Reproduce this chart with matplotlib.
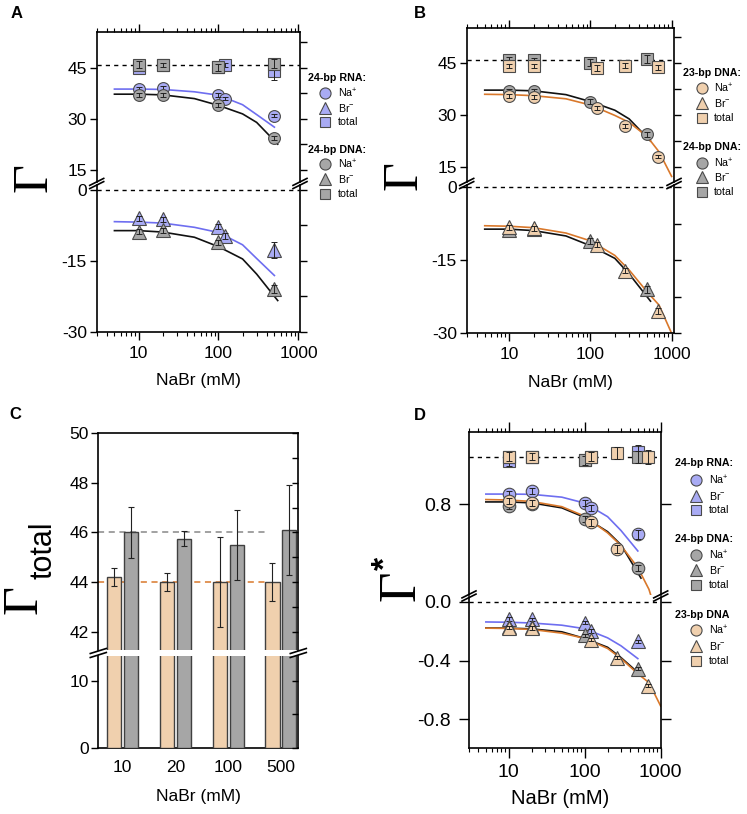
import numpy as np
import matplotlib
matplotlib.use('Agg')
import matplotlib.pyplot as plt
from matplotlib import ticker
from matplotlib.lines import Line2D

plt.rcParams['font.family'] = ['Liberation Sans', 'DejaVu Sans']
plt.rcParams['mathtext.fontset'] = 'custom'
plt.rcParams['mathtext.rm'] = 'Liberation Sans'
plt.rcParams['mathtext.it'] = 'Liberation Sans:italic'
plt.rcParams['mathtext.bf'] = 'Liberation Sans:bold'
plt.rcParams['axes.linewidth'] = 1.2
plt.rcParams['axes.unicode_minus'] = False

# ---------------- data ----------------
# 24-bp RNA
rna_x = [10, 20, 100, 120, 500]
rna_na = [38.8, 39.2, 37.0, 36.0, 31.0]
rna_br = [-6.0, -6.2, -7.8, -9.7, -12.7]
rna_tot = [45.0, 46.0, 45.2, 46.0, 44.2]
rna_na_err = [0.6, 0.6, 0.6, 0.5, 0.4]
rna_br_err = [0.5, 0.5, 0.5, 0.6, 1.6]
rna_tot_err = [1.0, 0.8, 0.7, 0.6, 2.6]
# 24-bp DNA
d24_x = [10, 20, 100, 500]
d24_na = [37.0, 37.0, 34.0, 24.5]
d24_br = [-8.8, -8.5, -11.1, -21.0]
d24_tot = [46.0, 46.0, 45.2, 46.3]
d24_na_err = [0.6, 0.6, 0.6, 0.6]
d24_br_err = [0.5, 0.5, 0.6, 0.8]
d24_tot_err = [1.0, 0.6, 1.0, 1.2]
# 23-bp DNA
d23_x = [10, 20, 120, 270, 680]
d23_na = [35.6, 35.2, 32.2, 26.9, 18.1]
d23_br = [-8.2, -8.4, -11.8, -17.1, -25.5]
d23_tot = [44.2, 44.2, 43.7, 44.4, 43.9]
d23_na_err = [0.6, 0.6, 0.5, 0.5, 0.5]
d23_br_err = [0.5, 0.5, 0.5, 0.5, 0.6]
d23_tot_err = [0.6, 0.6, 0.8, 0.6, 0.7]

# fitted curves
fit_x24 = [5, 10, 20, 50, 100, 200, 300, 500]
fit_x24d = [5, 10, 20, 50, 100, 200, 300, 550]
fit_x23 = [5, 10, 20, 50, 100, 200, 300, 500, 700, 1000]
rna_fit_na = [38.8, 38.8, 38.7, 38.0, 37.0, 34.2, 31.3, 27.6]
rna_fit_br = [-6.7, -6.8, -7.0, -7.9, -9.0, -11.6, -14.5, -18.1]
d24_fit_na = [37.3, 37.3, 37.1, 36.0, 34.0, 31.5, 29.0, 22.6]
d24_fit_br = [-8.6, -8.6, -8.9, -10.0, -12.0, -14.6, -17.8, -23.4]
d23_fit_na = [36.1, 36.0, 35.7, 34.8, 33.0, 30.0, 28.0, 23.9, 19.5, 12.4]
d23_fit_br = [-7.9, -8.0, -8.3, -9.4, -11.0, -14.0, -17.0, -21.5, -24.2, -30.0]

# panel C
c_cats = ['10', '20', '100', '500']
c_d23 = [44.2, 44.0, 44.0, 44.0]
c_d23_err = [0.37, 0.35, 1.8, 0.78]
c_d24 = [46.0, 45.75, 45.5, 46.1]
c_d24_err = [1.03, 0.31, 1.42, 1.8]

# panel D (normalised)
rna_na_n = [0.842, 0.857, 0.804, 0.783, 0.674]
rna_br_n = [-0.118, -0.12, -0.143, -0.20, -0.27]
rna_tot_n = [0.98, 1.0, 0.985, 1.0, 1.02]
d24_na_n = [0.793, 0.80, 0.738, 0.531]
d24_br_n = [-0.17, -0.17, -0.23, -0.455]
d24_tot_n = [1.0, 1.0, 0.985, 1.0]
d23_na_n = [0.815, 0.804, 0.724, 0.612, np.nan]
d23_br_n = [-0.177, -0.18, -0.258, -0.38, -0.57]
d23_tot_n = [1.0, 1.0, 1.0, 1.014, 1.0]
rna_na_n_err = [0.012, 0.012, 0.012, 0.012, 0.02]
d24_na_n_err = [0.012, 0.012, 0.012, 0.012]
d23_na_n_err = [0.012, 0.012, 0.015, 0.015, 0.015]
br_n_err = 0.012
tot_n_err = [0.02, 0.015, 0.02, 0.025, 0.03]
rna_fit_na_n = [0.843, 0.843, 0.842, 0.83, 0.805, 0.748, 0.69, 0.604]
d24_fit_na_n = [0.81, 0.81, 0.806, 0.785, 0.745, 0.685, 0.63, 0.49]
d23_fit_na_n = [0.82, 0.818, 0.812, 0.79, 0.75, 0.68, 0.627, 0.534, 0.443, 0.284]
rna_fit_br_n = [-0.138, -0.14, -0.145, -0.16, -0.184, -0.246, -0.30, -0.387]
d24_fit_br_n = [-0.179, -0.18, -0.185, -0.205, -0.25, -0.31, -0.38, -0.5]
d23_fit_br_n = [-0.18, -0.182, -0.189, -0.214, -0.25, -0.318, -0.386, -0.49, -0.55, -0.71]

# ---------------- style ----------------
C_RNA, L_RNA = '#a9abf4', '#6e6ef0'
C_D24, L_D24 = '#a6a6a6', '#111111'
C_D23, L_D23 = '#f0d0ae', '#d9782b'
EDGE = '#4a4a4a'
TS = 12.5

W, H = 747, 814
fig = plt.figure(figsize=(W / 100, H / 100), dpi=100)


def box(l, t, r, b):
    return [l / W, 1 - b / H, (r - l) / W, (b - t) / H]


def fx(x):
    return x / W


def fy(y):
    return 1 - y / H


def pts(ax, x, y, e, marker, face, ms, z):
    ax.plot(x, y, ls='none', marker=marker, ms=ms, mfc=face, mec=EDGE, mew=0.8, zorder=z)
    ax.errorbar(x, y, yerr=e, fmt='none', ecolor='#222222', elinewidth=0.7,
                capsize=2, capthick=0.7, zorder=z + 0.5)


def setup_log(ax_up, ax_lo, xlim, lsize):
    for ax in (ax_up, ax_lo):
        ax.set_xscale('log')
        ax.set_xlim(xlim)
        ax.tick_params(axis='x', which='major', length=6, width=1.0)
        ax.tick_params(axis='x', which='minor', length=3, width=0.8)
        ax.tick_params(axis='y', which='major', length=5, width=1.0, direction='out',
                       left=True, right=True, labelsize=lsize, pad=2)
        ax.tick_params(axis='y', which='minor', length=5, width=1.0, direction='out',
                       left=False, right=True)
    ax_up.spines['bottom'].set_visible(False)
    ax_lo.spines['top'].set_visible(False)
    ax_up.tick_params(axis='x', which='both', bottom=False, top=True,
                      labelbottom=False, direction='out')
    ax_lo.tick_params(axis='x', which='both', top=False, bottom=True,
                      direction='out', labelsize=lsize, pad=4)
    ax_lo.xaxis.set_major_formatter(ticker.FuncFormatter(lambda v, p: f'{v:g}'))
    ax_lo.xaxis.set_minor_formatter(ticker.NullFormatter())


def brk(x, y, w=7, h=3.5, gap=3.2):
    for d in (-gap / 2, gap / 2):
        fig.add_artist(Line2D([fx(x - w), fx(x + w)], [fy(y + h + d), fy(y - h + d)],
                              color='black', lw=1.2, transform=fig.transFigure))


def legend_group(title, tx, ty, mx, ys, lx, face):
    fig.text(fx(tx), fy(ty), title, fontsize=7.7, fontweight='bold', ha='left', va='center')
    for (m, ms, lab), y in zip([('o', 8, 'Na$^{+}$'), ('^', 9, 'Br$^{-}$'), ('s', 7, 'total')], ys):
        fig.add_artist(Line2D([fx(mx)], [fy(y)], marker=m, ms=ms, mfc=face, mec=EDGE,
                              mew=0.8, ls='none', transform=fig.transFigure))
        fig.text(fx(lx), fy(y), lab, fontsize=7.7, ha='left', va='center')


def dashed(ax, y, color='black', lw=1.0, dash=(3, 3)):
    ax.axhline(y, color=color, lw=lw, ls=(0, dash), zorder=1)


LW = 1.2
MC, MS, MT = 8.5, 8, 10

# ---------------- Panel A ----------------
aA_up = fig.add_axes(box(96.7, 32.3, 300, 182))
aA_lo = fig.add_axes(box(96.7, 185, 300, 331.7))
setup_log(aA_up, aA_lo, (3, 1045), TS)
aA_up.set_ylim(11.47, 55.5)
aA_lo.set_ylim(-30.0, 1.06)
for ax in (aA_up, aA_lo):
    ax.yaxis.set_major_locator(ticker.MultipleLocator(15))
    ax.yaxis.set_minor_locator(ticker.MultipleLocator(7.5))
dashed(aA_up, 46)
dashed(aA_lo, 0)
aA_up.plot(fit_x24, rna_fit_na, color=L_RNA, lw=LW, zorder=2)
aA_up.plot(fit_x24d, d24_fit_na, color=L_D24, lw=LW, zorder=2)
aA_lo.plot(fit_x24, rna_fit_br, color=L_RNA, lw=LW, zorder=2)
aA_lo.plot(fit_x24d, d24_fit_br, color=L_D24, lw=LW, zorder=2)
pts(aA_up, rna_x, rna_tot, rna_tot_err, 's', C_RNA, MS, 3)
pts(aA_up, d24_x, d24_tot, d24_tot_err, 's', C_D24, MS, 4)
pts(aA_up, rna_x, rna_na, rna_na_err, 'o', C_RNA, MC, 5)
pts(aA_up, d24_x, d24_na, d24_na_err, 'o', C_D24, MC, 6)
pts(aA_lo, rna_x, rna_br, rna_br_err, '^', C_RNA, MT, 5)
pts(aA_lo, d24_x, d24_br, d24_br_err, '^', C_D24, MT, 6)
brk(96.7, 183.5)
brk(300, 183.5)
legend_group('24-bp RNA:', 308, 78, 325, [93, 108, 122], 338, C_RNA)
legend_group('24-bp DNA:', 308, 150, 325, [164, 179, 194], 338, C_D24)
fig.text(fx(198), fy(381), 'NaBr (mM)', fontsize=12.5, ha='center', va='center')
fig.text(fx(34), fy(177), 'Γ', fontsize=36, family='Liberation Serif', rotation=90,
         ha='center', va='center')
fig.text(fx(17), fy(14), 'A', fontsize=12, fontweight='bold', ha='center', va='center')

# ---------------- Panel B ----------------
aB_up = fig.add_axes(box(466.7, 28.3, 674, 182))
aB_lo = fig.add_axes(box(466.7, 185, 674, 333.3))
setup_log(aB_up, aB_lo, (3, 1070), TS)
aB_up.set_ylim(10.79, 55.14)
aB_lo.set_ylim(-30.0, 0.47)
for ax in (aB_up, aB_lo):
    ax.yaxis.set_major_locator(ticker.MultipleLocator(15))
    ax.yaxis.set_minor_locator(ticker.MultipleLocator(7.5))
dashed(aB_up, 46)
dashed(aB_lo, 0)
aB_up.plot(fit_x24d, d24_fit_na, color=L_D24, lw=LW, zorder=2)
aB_up.plot(fit_x23, d23_fit_na, color=L_D23, lw=LW, zorder=2)
aB_lo.plot(fit_x24d, d24_fit_br, color=L_D24, lw=LW, zorder=2)
aB_lo.plot(fit_x23, d23_fit_br, color=L_D23, lw=LW, zorder=2)
pts(aB_up, d24_x, d24_tot, d24_tot_err, 's', C_D24, MS, 3)
pts(aB_up, d23_x, d23_tot, d23_tot_err, 's', C_D23, MS, 4)
pts(aB_up, d24_x, d24_na, d24_na_err, 'o', C_D24, MC, 5)
pts(aB_up, d23_x, d23_na, d23_na_err, 'o', C_D23, MC, 6)
pts(aB_lo, d24_x, d24_br, d24_br_err, '^', C_D24, MT, 5)
pts(aB_lo, d23_x, d23_br, d23_br_err, '^', C_D23, MT, 6)
brk(466.7, 183.5)
brk(674, 183.5)
legend_group('23-bp DNA:', 683, 73, 702, [88, 103, 118], 714, C_D23)
legend_group('24-bp DNA:', 683, 147, 702, [163, 177, 192], 714, C_D24)
fig.text(fx(570), fy(382), 'NaBr (mM)', fontsize=12.5, ha='center', va='center')
fig.text(fx(404), fy(176), 'Γ', fontsize=36, family='Liberation Serif', rotation=90,
         ha='center', va='center')
fig.text(fx(420), fy(14), 'B', fontsize=12, fontweight='bold', ha='center', va='center')

# ---------------- Panel C ----------------
aC_up = fig.add_axes(box(98.3, 433.3, 298.3, 650))
aC_lo = fig.add_axes(box(98.3, 656, 298.3, 747.7))
xc = np.arange(len(c_cats))
bw, off = 0.27, 0.16
for ax in (aC_up, aC_lo):
    ax.bar(xc - off, c_d23, bw, color=C_D23, edgecolor='#404040', lw=1.0, zorder=3)
    ax.bar(xc + off, c_d24, bw, color=C_D24, edgecolor='#404040', lw=1.0, zorder=3)
    ax.set_xlim(-0.465, 3.33)
aC_up.errorbar(xc - off, c_d23, yerr=c_d23_err, fmt='none', ecolor='#222222',
               elinewidth=0.8, capsize=2, capthick=0.8, zorder=4)
aC_up.errorbar(xc + off, c_d24, yerr=c_d24_err, fmt='none', ecolor='#222222',
               elinewidth=0.8, capsize=2, capthick=0.8, zorder=4)
aC_up.plot([-0.465, 2.7], [46, 46], color='#888888', lw=1.1, ls=(0, (4, 3)), zorder=2)
aC_up.plot([-0.465, 2.7], [44, 44], color=L_D23, lw=1.1, ls=(0, (4, 3)), zorder=2)
aC_up.set_ylim(41.26, 50)
aC_lo.set_ylim(0, 13.75)
aC_up.set_yticks([42, 44, 46, 48, 50])
aC_lo.set_yticks([0, 10])
aC_up.spines['bottom'].set_visible(False)
aC_lo.spines['top'].set_visible(False)
aC_up.tick_params(axis='x', bottom=False, labelbottom=False)
aC_lo.set_xticks(xc)
aC_lo.set_xticklabels(c_cats)
aC_lo.tick_params(axis='x', length=0, pad=9, labelsize=TS)
for ax in (aC_up, aC_lo):
    ax.tick_params(axis='y', which='major', length=5, width=1.0, direction='out',
                   left=True, right=False, labelsize=TS, pad=2)
for ax, step in ((aC_up, 1), (aC_lo, 5)):
    tw = ax.twinx()
    tw.set_ylim(ax.get_ylim())
    tw.yaxis.set_major_locator(ticker.MultipleLocator(step))
    tw.tick_params(axis='y', direction='in', length=4, width=1.0, labelright=False)
    for s in tw.spines.values():
        s.set_visible(False)
brk(98.3, 653, w=8, h=2.5, gap=4)
brk(298.3, 653, w=8, h=2.5, gap=4)
fig.text(fx(198), fy(797), 'NaBr (mM)', fontsize=12.5, ha='center', va='center')
fig.text(fx(24), fy(599), 'Γ', fontsize=36, family='Liberation Serif', rotation=90,
         ha='center', va='center')
fig.text(fx(43), fy(550), 'total', fontsize=22, rotation=90, ha='center', va='center')
fig.text(fx(15), fy(414), 'C', fontsize=12, fontweight='bold', ha='center', va='center')

# ---------------- Panel D ----------------
aD_up = fig.add_axes(box(469, 432.3, 660.7, 595))
aD_lo = fig.add_axes(box(469, 597, 660.7, 748.3))
setup_log(aD_up, aD_lo, (3, 1000), 14)
for ax in (aD_up, aD_lo):
    ax.tick_params(axis='y', which='major', length=7, pad=6)
    ax.tick_params(axis='x', which='major', length=7)
aD_up.set_ylim(0.419, 1.1025)
aD_lo.set_ylim(-0.9966, 0.0316)
aD_up.set_yticks([0.8])
aD_lo.set_yticks([-0.8, -0.4, 0.0])
aD_up.yaxis.set_minor_locator(ticker.NullLocator())
aD_lo.yaxis.set_minor_locator(ticker.NullLocator())
aD_up.yaxis.set_major_formatter(ticker.FormatStrFormatter('%.1f'))
aD_lo.yaxis.set_major_formatter(ticker.FuncFormatter(lambda v, p: f'{v:.1f}'.replace('-0.0', '0.0')))
dashed(aD_up, 1.0)
dashed(aD_lo, 0.0)
aD_up.plot(fit_x24, rna_fit_na_n, color=L_RNA, lw=LW, zorder=2)
aD_up.plot(fit_x24d, d24_fit_na_n, color=L_D24, lw=LW, zorder=2)
aD_up.plot(fit_x23, d23_fit_na_n, color=L_D23, lw=LW, zorder=2)
aD_lo.plot(fit_x24, rna_fit_br_n, color=L_RNA, lw=LW, zorder=2)
aD_lo.plot(fit_x24d, d24_fit_br_n, color=L_D24, lw=LW, zorder=2)
aD_lo.plot(fit_x23, d23_fit_br_n, color=L_D23, lw=LW, zorder=2)
pts(aD_up, rna_x, rna_tot_n, tot_n_err, 's', C_RNA, 8.5, 3)
pts(aD_up, d24_x, d24_tot_n, tot_n_err[:4], 's', C_D24, 8.5, 4)
pts(aD_up, d23_x, d23_tot_n, tot_n_err, 's', C_D23, 8.5, 5)
pts(aD_up, rna_x, rna_na_n, rna_na_n_err, 'o', C_RNA, 9, 6)
pts(aD_up, d24_x, d24_na_n, d24_na_n_err, 'o', C_D24, 9, 7)
pts(aD_up, d23_x, d23_na_n, d23_na_n_err, 'o', C_D23, 9, 8)
pts(aD_lo, rna_x, rna_br_n, br_n_err, '^', C_RNA, 10.5, 6)
pts(aD_lo, d24_x, d24_br_n, br_n_err, '^', C_D24, 10.5, 7)
pts(aD_lo, d23_x, d23_br_n, br_n_err, '^', C_D23, 10.5, 8)
brk(469, 596)
brk(660.7, 596)
legend_group('24-bp RNA:', 675, 463, 696, [480, 496, 510], 709, C_RNA)
legend_group('24-bp DNA:', 675, 539, 696, [555, 570, 585], 709, C_D24)
legend_group('23-bp DNA', 675, 615, 696, [630, 646, 661], 709, C_D23)
fig.text(fx(560), fy(798), 'NaBr (mM)', fontsize=14.5, ha='center', va='center')
fig.text(fx(401), fy(586), 'Γ', fontsize=38, family='Liberation Serif', rotation=90,
         ha='center', va='center')
fig.text(fx(386), fy(563), '*', fontsize=24, fontweight='bold', rotation=90,
         ha='center', va='center')
fig.text(fx(420), fy(415), 'D', fontsize=12, fontweight='bold', ha='center', va='center')

fig.savefig('out.png', dpi=100)
